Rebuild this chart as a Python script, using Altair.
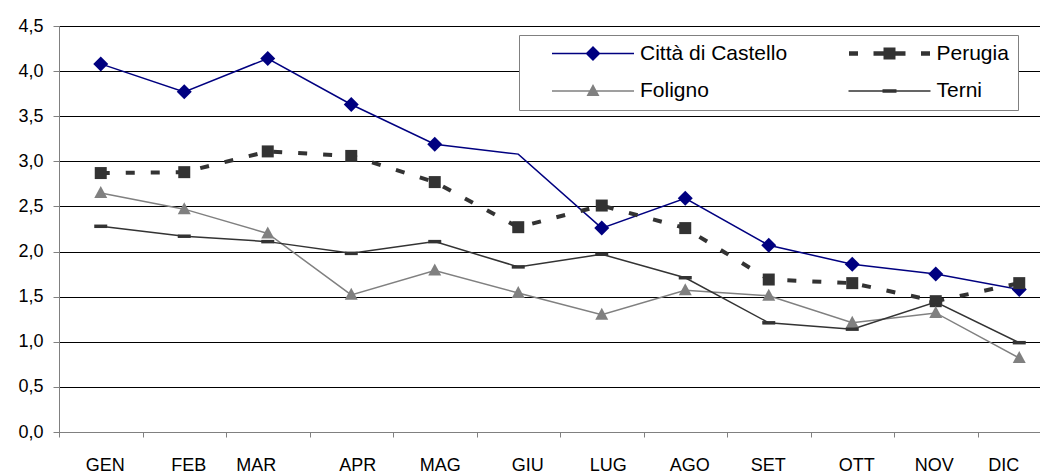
import altair as alt
import pandas as pd

# ---------------- data ----------------
mesi = ["GEN", "FEB", "MAR", "APR", "MAG", "GIU", "LUG", "AGO", "SET", "OTT", "NOV", "DIC"]
serie = ["Città di Castello", "Perugia", "Foligno", "Terni"]
citta = [4.08, 3.77, 4.14, 3.63, 3.19, 3.08, 2.26, 2.59, 2.07, 1.86, 1.75, 1.58]
perugia = [2.87, 2.88, 3.11, 3.06, 2.77, 2.27, 2.51, 2.26, 1.69, 1.65, 1.45, 1.65]
foligno = [2.65, 2.47, 2.20, 1.52, 1.79, 1.54, 1.30, 1.57, 1.51, 1.21, 1.32, 0.82]
terni = [2.28, 2.17, 2.11, 1.98, 2.11, 1.83, 1.97, 1.71, 1.21, 1.14, 1.44, 0.99]
# in the original the Città di Castello marker for GIU is not drawn
senza_marcatore = [("Città di Castello", "GIU")]

valori = {"Città di Castello": citta, "Perugia": perugia, "Foligno": foligno, "Terni": terni}
rows = []
for s in serie:
    for m, v in zip(mesi, valori[s]):
        rows.append({"serie": s, "mese": m, "valore": v,
                     "marcatore": 0 if (s, m) in senza_marcatore else 1})
df = pd.DataFrame(rows)

# ---------------- styles ----------------
FONT = "Liberation Sans"
colori = ["#000080", "#333333", "#808080", "#333333"]


def P(v, k):
    return f"{v / k:.4f}"


def rect(x0, x1, y0, y1, k):
    return f"M{P(x0,k)},{P(y0,k)}H{P(x1,k)}V{P(y1,k)}H{P(x0,k)}Z"


def diamond(r, k):
    return f"M0,{P(-r,k)}L{P(r,k)},0L0,{P(r,k)}L{P(-r,k)},0Z"


def triangle(hw, top, bot, k):
    return f"M0,{P(top,k)}L{P(hw,k)},{P(bot,k)}L{P(-hw,k)},{P(bot,k)}Z"


# chart markers (size 144 -> 6 px per unit)
KM = 6.0
forme = [
    diamond(7.5, KM),
    rect(-6, 6, -6, 6, KM),
    triangle(6.5, -7, 5, KM),
    rect(-6.5, 6.5, -1.75, 1.75, KM),
]

# legend glyphs (line + marker), symbol size 82^2 -> 41 px per unit
KL = 41.0
glifi = [
    rect(-41, 41, -0.75, 0.75, KL) + diamond(7.5, KL),
    rect(-40.5, -31.5, -2.25, 2.25, KL) + rect(-16, -6, -2.25, 2.25, KL)
    + rect(-6, 6, -6, 6, KL) + rect(6, 16, -2.25, 2.25, KL) + rect(31.5, 40.5, -2.25, 2.25, KL),
    rect(-41, 41, -0.75, 0.75, KL) + triangle(6.5, -7, 5, KL),
    rect(-41, 41, -0.65, 0.65, KL) + rect(-7, 7, -1.75, 1.75, KL),
]

scarti_etichette = {"GEN": 4, "FEB": 4, "MAR": -12, "APR": 6, "MAG": 5, "GIU": 9,
                    "LUG": 6, "AGO": 4, "SET": -1, "OTT": 4, "NOV": -2, "DIC": -16}
label_offset = {
    "condition": [{"test": f"datum.value === '{m}'", "value": o} for m, o in scarti_etichette.items()],
    "value": 4,
}

x_enc = alt.X(
    "mese:N", sort=mesi, bandPosition=0.5,
    scale=alt.Scale(type="band", domain=mesi, paddingInner=0, paddingOuter=0),
    axis=alt.Axis(title=None, labelAngle=0, tickBand="extent", grid=False,
                  domainColor="#808080", tickColor="#808080", tickSize=5,
                  labelPadding=19, labelFontSize=18, labelFont=FONT, labelColor="black",
                  labelOffset=label_offset),
)
y_enc = alt.Y(
    "valore:Q",
    scale=alt.Scale(domain=[0, 4.5], nice=False, zero=True),
    axis=alt.Axis(title=None, values=[0, 0.5, 1, 1.5, 2, 2.5, 3, 3.5, 4, 4.5],
                  labelExpr="replace(format(datum.value, '.1f'), '.', ',')",
                  grid=True, gridColor="black", gridWidth=1, gridOpacity=1,
                  domainColor="#808080", tickColor="#808080", tickSize=6,
                  labelPadding=10, labelFontSize=18, labelFont=FONT, labelColor="black"),
)
col_enc = alt.Color("serie:N", scale=alt.Scale(domain=serie, range=colori), legend=None)

base = alt.Chart(df).encode(x=x_enc, y=y_enc, color=col_enc)

linee_sottili = base.transform_filter("datum.serie !== 'Perugia'").mark_line(strokeWidth=1.5)
linea_perugia = base.transform_filter("datum.serie === 'Perugia'").mark_line(
    strokeWidth=4, strokeDash=[9, 16])

punti = base.transform_filter("datum.marcatore === 1").mark_point(
    filled=True, opacity=1, size=144, strokeWidth=0).encode(
    shape=alt.Shape("serie:N", scale=alt.Scale(domain=serie, range=forme), legend=None))

legenda = alt.Legend(
    title=None, orient="none", legendX=460, legendY=9, columns=2, values=serie,
    direction="horizontal",
    columnPadding=36.5, rowPadding=16.5, padding=8.5, clipHeight=20,
    fillColor="white", strokeColor="#808080",
    labelFontSize=21, labelFont=FONT, labelColor="black", labelOffset=6, labelLimit=0,
    symbolSize=6724, symbolStrokeWidth=0, symbolOpacity=1, symbolOffset=24.5,
)
strato_legenda = alt.Chart(df).transform_filter("datum.valore < 0").transform_calculate(
    voce="datum.serie").mark_point(filled=True, opacity=1).encode(
    x=x_enc, y=y_enc,
    color=alt.Color("voce:N", scale=alt.Scale(domain=serie, range=colori), legend=legenda),
    shape=alt.Shape("voce:N", scale=alt.Scale(domain=serie, range=glifi), legend=legenda),
)

chart = alt.layer(linee_sottili, linea_perugia, punti, strato_legenda).resolve_scale(
    color="independent", shape="independent"
).properties(
    width=1002, height=406,
    autosize=alt.AutoSizeParams(type="none"),
    padding={"left": 51, "top": 18, "right": -21, "bottom": 40},
    background="white",
).configure_view(stroke=None).configure(font=FONT)

chart.save("out.html", embed_options={"renderer": "svg", "actions": False})
